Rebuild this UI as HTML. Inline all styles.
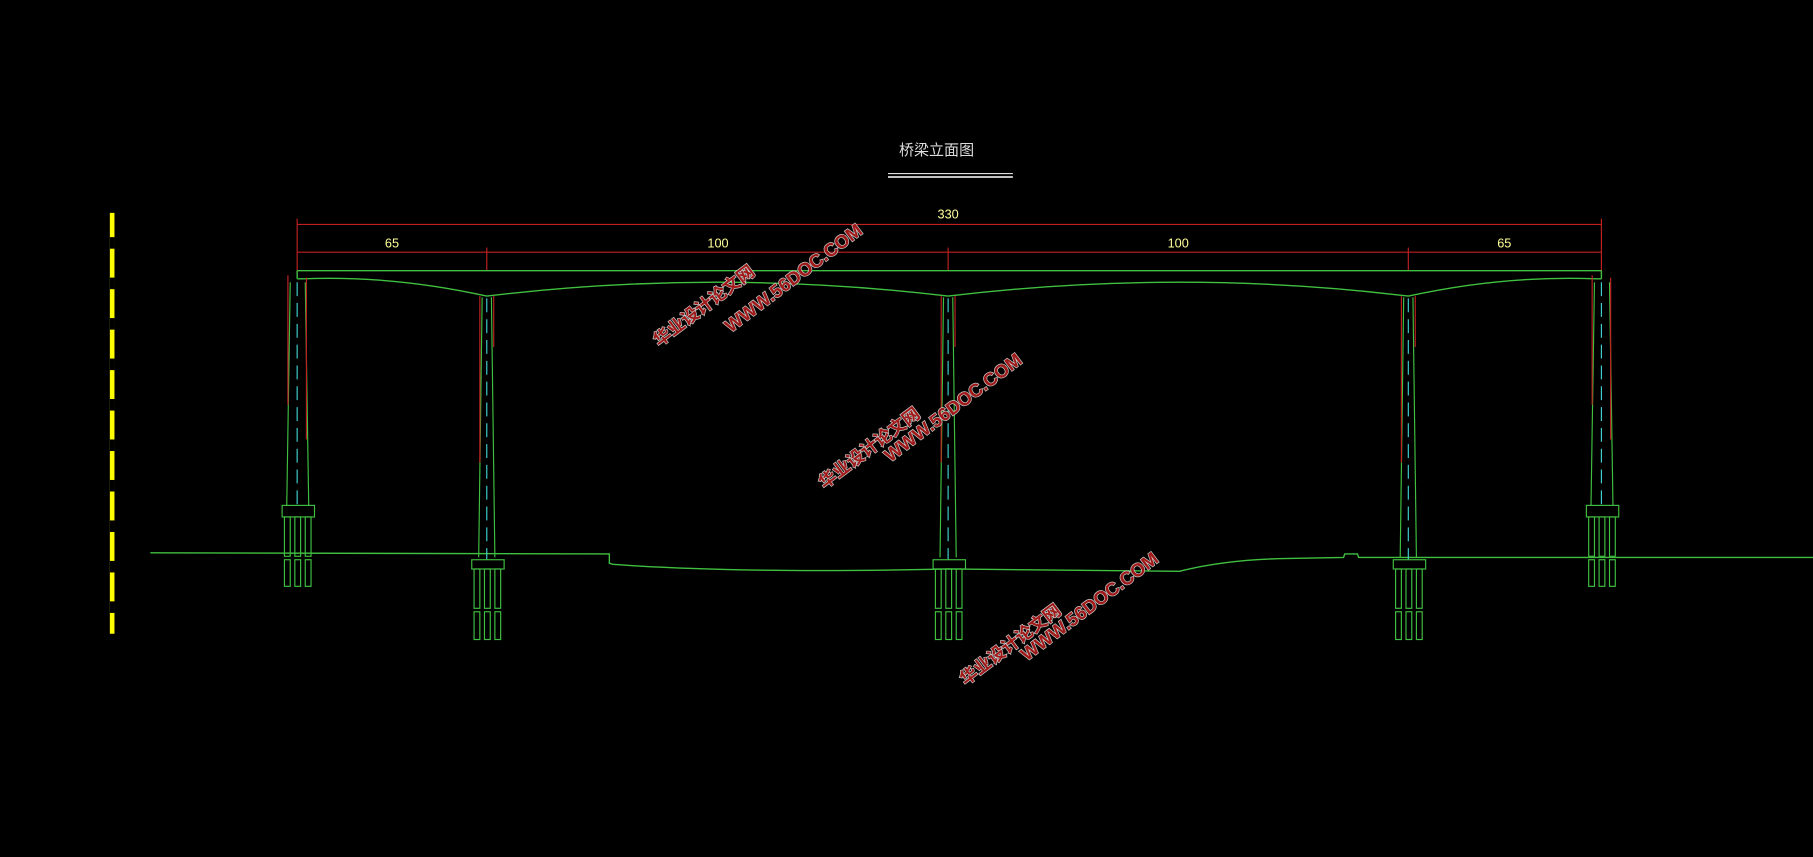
<!DOCTYPE html>
<html><head><meta charset="utf-8"><style>
html,body{margin:0;padding:0;background:#000;width:1813px;height:857px;overflow:hidden}
svg{display:block}
.wm{font-family:"Liberation Sans","Noto Sans CJK SC",sans-serif;font-weight:bold;fill:#a01818;stroke:#c8c8c8;stroke-width:1.2;paint-order:stroke}
</style></head><body>
<svg width="1813" height="857" viewBox="0 0 1568 741" xmlns="http://www.w3.org/2000/svg">
<!-- scale bar -->
<rect x="95" y="184" width="4" height="364" fill="#ffff00"/>
<g stroke="#000" stroke-width="4">
<line x1="97" y1="205" x2="97" y2="215"/><line x1="97" y1="240" x2="97" y2="250"/><line x1="97" y1="275" x2="97" y2="285"/><line x1="97" y1="310" x2="97" y2="320"/><line x1="97" y1="345" x2="97" y2="355"/><line x1="97" y1="380" x2="97" y2="390"/><line x1="97" y1="415" x2="97" y2="425"/><line x1="97" y1="450" x2="97" y2="460"/><line x1="97" y1="485" x2="97" y2="495"/><line x1="97" y1="520" x2="97" y2="530"/>
</g>
<!-- title -->
<text x="810" y="134" fill="#ddd" font-size="13" text-anchor="middle" font-family="'Liberation Sans','Noto Sans CJK SC',sans-serif">桥梁立面图</text>
<line x1="768" y1="150" x2="876" y2="150" stroke="#ddd"/><line x1="768" y1="153" x2="876" y2="153" stroke="#ddd" stroke-width="1.5"/>
<!-- dimensions -->
<g stroke="#c02020" stroke-width="1" fill="none">
<line x1="257" y1="194" x2="1385" y2="194"/><line x1="257" y1="218" x2="1385" y2="218"/>
<line x1="257" y1="189" x2="257" y2="236"/><line x1="1385" y1="189" x2="1385" y2="236"/>
<line x1="421" y1="214" x2="421" y2="234"/><line x1="820" y1="214" x2="820" y2="234"/><line x1="1218" y1="214" x2="1218" y2="234"/>
</g>
<g fill="#ffff99" font-size="11" text-anchor="middle" font-family="'Liberation Sans',sans-serif">
<text x="820" y="189">330</text><text x="339" y="214">65</text><text x="621" y="214">100</text><text x="1019" y="214">100</text><text x="1301" y="214">65</text>
</g>
<!-- deck -->
<g stroke="#40c040" stroke-width="1.2" fill="none">
<line x1="257" y1="234" x2="1385" y2="234"/>
<path d="M257 241 L262 241 Q340 238 421 256 Q620 232 820 256 Q1020 232 1218 256 Q1300 238 1380 241 L1385 241"/>
<line x1="257" y1="234" x2="257" y2="241"/><line x1="1385" y1="234" x2="1385" y2="241"/>
<!-- ground -->
<path d="M130 478 L527 479 L527 487 L530 488 Q640 496 820 492 L1020 494 Q1060 484 1110 483 L1162 482 L1163 479 L1174 479 L1175 482 L1568 482"/>
</g>
<!-- piers -->
<g fill="none" stroke-width="1">
<!-- end piers -->
<g id="ep">
<path d="M251 244 L248 437 M264 244 L267 437" stroke="#40c040"/>
<line x1="257" y1="244" x2="257" y2="437" stroke="#40d0d0" stroke-dasharray="12,6"/>
<path d="M249 238 L249 350 M265 240 L265 380" stroke="#c02020"/>
<rect x="244" y="437" width="28" height="10" stroke="#40c040"/>
<g stroke="#40c040"><rect x="246" y="447" width="5" height="34"/><rect x="255" y="447" width="5" height="34"/><rect x="264" y="447" width="5" height="34"/>
<rect x="246" y="484" width="5" height="23"/><rect x="255" y="484" width="5" height="23"/><rect x="264" y="484" width="5" height="23"/></g>
</g>
<use href="#ep" transform="translate(1128,0)"/>
<!-- mid piers -->
<g id="mp">
<path d="M417 257 L414 482 M425 257 L428 482" stroke="#40c040"/>
<line x1="421" y1="258" x2="421" y2="484" stroke="#40d0d0" stroke-dasharray="12,6"/>
<path d="M415 256 L415 400 M427 256 L427 300" stroke="#c02020"/>
<rect x="408" y="484" width="28" height="8" stroke="#40c040"/>
<g stroke="#40c040"><rect x="410" y="492" width="5" height="34"/><rect x="419" y="492" width="5" height="34"/><rect x="428" y="492" width="5" height="34"/>
<rect x="410" y="529" width="5" height="24"/><rect x="419" y="529" width="5" height="24"/><rect x="428" y="529" width="5" height="24"/></g>
</g>
<use href="#mp" transform="translate(399,0)"/>
<use href="#mp" transform="translate(797,0)"/>
</g>
<!-- watermarks -->
<g class="wm" font-size="15">
<text transform="translate(570,300) rotate(-37)">华业设计论文网</text>
<text transform="translate(632,288) rotate(-37)" font-size="16">WWW.56DOC.COM</text>
<text transform="translate(713,423) rotate(-37)">华业设计论文网</text>
<text transform="translate(770,400) rotate(-37)" font-size="16">WWW.56DOC.COM</text>
<text transform="translate(835,593) rotate(-37)">华业设计论文网</text>
<text transform="translate(888,572) rotate(-37)" font-size="16">WWW.56DOC.COM</text>
</g>
</svg>
</body></html>
